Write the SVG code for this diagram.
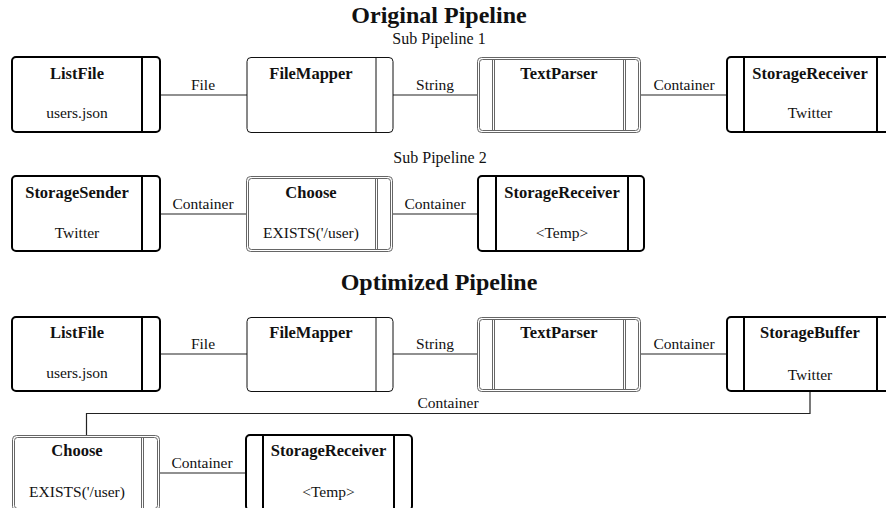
<svg xmlns="http://www.w3.org/2000/svg" width="886" height="508" viewBox="0 0 886 508">
<style>
text{font-family:"Liberation Serif","DejaVu Serif","Times New Roman",serif;fill:#111;text-anchor:middle}
.h{font-size:24px;font-weight:bold}
.sp{font-size:16px}
.t{font-size:16.5px;font-weight:bold}
.s{font-size:15.5px}
.lb{font-size:15.5px}
.thick{fill:#fff;stroke:#000;stroke-width:2}
.thin{fill:#fff;stroke:#111;stroke-width:1}
.dbl{fill:#fff;stroke:#666;stroke-width:1}
.dthick{stroke:#000;stroke-width:2}
.dthin{stroke:#111;stroke-width:1}
.ddbl{stroke:#666;stroke-width:1}
.conn{fill:none;stroke:#222;stroke-width:1.2}
</style>
<rect width="886" height="508" fill="#fff"/>
<text class="h" x="439" y="23">Original Pipeline</text>
<text class="sp" x="439" y="44">Sub Pipeline 1</text>
<text class="sp" x="440" y="163">Sub Pipeline 2</text>
<text class="h" x="439" y="290">Optimized Pipeline</text>

<g id="connectors">
<line class="conn" x1="160" y1="95" x2="247" y2="95"/>
<line class="conn" x1="393" y1="95" x2="477" y2="95"/>
<line class="conn" x1="641" y1="95" x2="727" y2="95"/>
<line class="conn" x1="160" y1="214" x2="246" y2="214"/>
<line class="conn" x1="393" y1="214" x2="478" y2="214"/>
<line class="conn" x1="160" y1="354" x2="247" y2="354"/>
<line class="conn" x1="393" y1="354" x2="477" y2="354"/>
<line class="conn" x1="641" y1="354" x2="727" y2="354"/>
<polyline class="conn" points="810,392 810,413.5 86.5,413.5 86.5,435"/>
<line class="conn" x1="160" y1="473" x2="245" y2="473"/>
<text class="lb" x="203" y="90">File</text>
<text class="lb" x="435" y="90">String</text>
<text class="lb" x="684" y="90">Container</text>
<text class="lb" x="203" y="209">Container</text>
<text class="lb" x="435" y="209">Container</text>
<text class="lb" x="203" y="349">File</text>
<text class="lb" x="435" y="349">String</text>
<text class="lb" x="684" y="349">Container</text>
<text class="lb" x="448" y="408">Container</text>
<text class="lb" x="202" y="468">Container</text>
</g>

<g id="listfile1">
<rect class="thick" x="12" y="57" width="148" height="75" rx="4"/>
<line class="dthick" x1="142" y1="57" x2="142" y2="132"/>
<text class="t" x="77" y="79">ListFile</text>
<text class="s" x="77" y="118">users.json</text>
</g>
<g id="filemapper1">
<rect class="thin" x="247" y="57.5" width="146" height="75" rx="4"/>
<line class="dthin" x1="376" y1="57.5" x2="376" y2="132.5"/>
<text class="t" x="311" y="79">FileMapper</text>
</g>
<g id="textparser1">
<rect class="dbl" x="477.5" y="57.5" width="163" height="75" rx="4"/>
<rect class="dbl" x="479.5" y="59.5" width="159" height="71" rx="3"/>
<line class="ddbl" x1="492.5" y1="59.5" x2="492.5" y2="130.5"/>
<line class="ddbl" x1="494.5" y1="59.5" x2="494.5" y2="130.5"/>
<line class="ddbl" x1="623.5" y1="59.5" x2="623.5" y2="130.5"/>
<line class="ddbl" x1="625.5" y1="59.5" x2="625.5" y2="130.5"/>
<text class="t" x="559" y="79">TextParser</text>
</g>
<g id="storagereceiver1">
<rect class="thick" x="727" y="57" width="166" height="75" rx="4"/>
<line class="dthick" x1="744" y1="57" x2="744" y2="132"/>
<line class="dthick" x1="877" y1="57" x2="877" y2="132"/>
<text class="t" x="810" y="79">StorageReceiver</text>
<text class="s" x="810" y="118">Twitter</text>
</g>

<g id="storagesender2">
<rect class="thick" x="12" y="176" width="148" height="75" rx="4"/>
<line class="dthick" x1="142" y1="176" x2="142" y2="251"/>
<text class="t" x="77" y="198">StorageSender</text>
<text class="s" x="77" y="238">Twitter</text>
</g>
<g id="choose2">
<rect class="dbl" x="246.5" y="176.5" width="146" height="75" rx="4"/>
<rect class="dbl" x="248.5" y="178.5" width="142" height="71" rx="3"/>
<line class="ddbl" x1="375.5" y1="178.5" x2="375.5" y2="249.5"/>
<line class="ddbl" x1="377.5" y1="178.5" x2="377.5" y2="249.5"/>
<text class="t" x="311" y="198">Choose</text>
<text class="s" x="311" y="238">EXISTS('/user)</text>
</g>
<g id="storagereceiver2">
<rect class="thick" x="478" y="176" width="166" height="75" rx="4"/>
<line class="dthick" x1="496" y1="176" x2="496" y2="251"/>
<line class="dthick" x1="628" y1="176" x2="628" y2="251"/>
<text class="t" x="562" y="198">StorageReceiver</text>
<text class="s" x="562" y="238">&lt;Temp&gt;</text>
</g>

<g id="listfile3">
<rect class="thick" x="12" y="317" width="148" height="74" rx="4"/>
<line class="dthick" x1="142" y1="317" x2="142" y2="391"/>
<text class="t" x="77" y="338">ListFile</text>
<text class="s" x="77" y="378">users.json</text>
</g>
<g id="filemapper3">
<rect class="thin" x="247" y="317.5" width="146" height="74" rx="4"/>
<line class="dthin" x1="376" y1="317.5" x2="376" y2="391.5"/>
<text class="t" x="311" y="338">FileMapper</text>
</g>
<g id="textparser3">
<rect class="dbl" x="477.5" y="317.5" width="163" height="74" rx="4"/>
<rect class="dbl" x="479.5" y="319.5" width="159" height="70" rx="3"/>
<line class="ddbl" x1="492.5" y1="319.5" x2="492.5" y2="389.5"/>
<line class="ddbl" x1="494.5" y1="319.5" x2="494.5" y2="389.5"/>
<line class="ddbl" x1="623.5" y1="319.5" x2="623.5" y2="389.5"/>
<line class="ddbl" x1="625.5" y1="319.5" x2="625.5" y2="389.5"/>
<text class="t" x="559" y="338">TextParser</text>
</g>
<g id="storagebuffer3">
<rect class="thick" x="727" y="317" width="166" height="74" rx="4"/>
<line class="dthick" x1="744" y1="317" x2="744" y2="391"/>
<line class="dthick" x1="877" y1="317" x2="877" y2="391"/>
<text class="t" x="810" y="338">StorageBuffer</text>
<text class="s" x="810" y="380">Twitter</text>
</g>

<g id="choose4">
<rect class="dbl" x="12.5" y="435.5" width="147" height="75" rx="4"/>
<rect class="dbl" x="14.5" y="437.5" width="143" height="71" rx="3"/>
<line class="ddbl" x1="141.5" y1="437.5" x2="141.5" y2="508.5"/>
<line class="ddbl" x1="143.5" y1="437.5" x2="143.5" y2="508.5"/>
<text class="t" x="77" y="456">Choose</text>
<text class="s" x="77" y="497">EXISTS('/user)</text>
</g>
<g id="storagereceiver4">
<rect class="thick" x="246" y="435" width="166" height="75" rx="4"/>
<line class="dthick" x1="263" y1="435" x2="263" y2="510"/>
<line class="dthick" x1="394" y1="435" x2="394" y2="510"/>
<text class="t" x="328.5" y="456">StorageReceiver</text>
<text class="s" x="328.5" y="497">&lt;Temp&gt;</text>
</g>
</svg>
